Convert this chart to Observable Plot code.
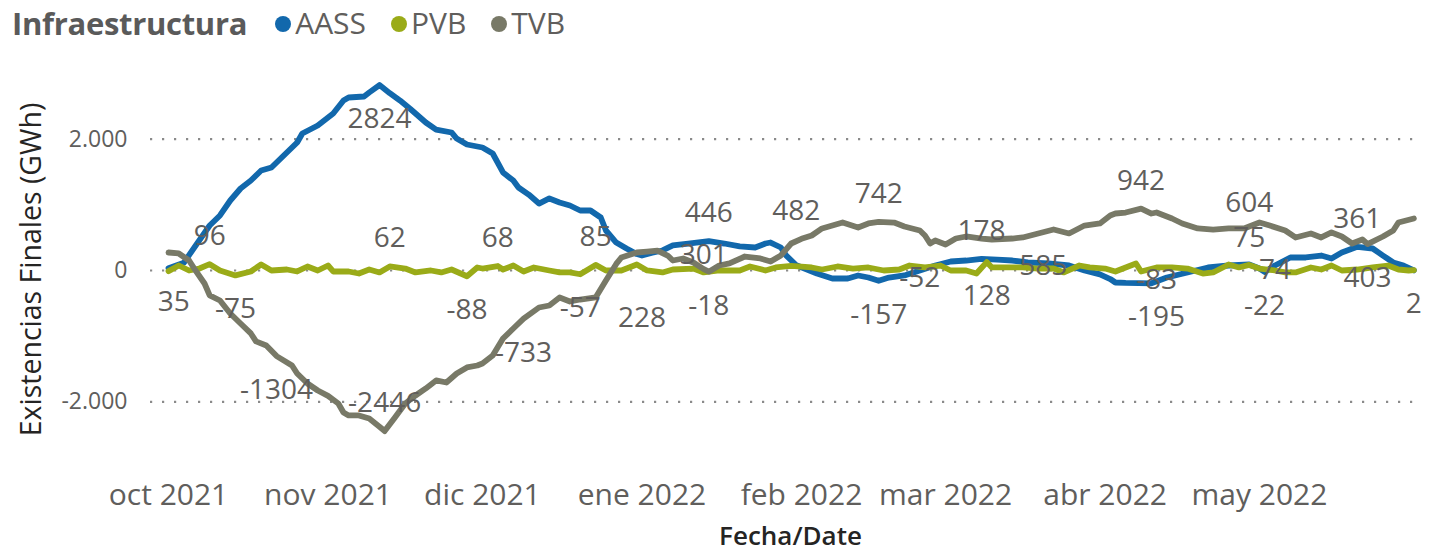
<!DOCTYPE html>
<html>
<head>
<meta charset="utf-8">
<script src="https://cdn.jsdelivr.net/npm/d3@7"></script>
<script src="https://cdn.jsdelivr.net/npm/@observablehq/plot@0.6"></script>
<style>
  html, body { margin: 0; padding: 0; background: #fff; }
  body { width: 1446px; height: 552px; overflow: hidden; font-family: "Open Sans", sans-serif; }
  #header { position: relative; height: 48px; display: flex; align-items: center; padding-left: 12px; padding-bottom: 2px; box-sizing: border-box; white-space: nowrap; }
  #title { font-weight: 700; font-size: 31px; color: #5a5a5a; line-height: 40px; margin-right: 28px; letter-spacing: -0.3px; }
  .item { display: inline-flex; align-items: center; font-size: 30px; color: #605e5c; line-height: 40px; margin-right: 25px; }
  .dot { width: 16px; height: 16px; border-radius: 50%; display: inline-block; margin-right: 4px; position: relative; top: 1px; }
</style>
</head>
<body>
<div id="header"></div>
<div id="chart"></div>
<script>
// ---- data ----
const seriesNames = ["AASS", "PVB", "TVB"];
const seriesColors = ["#1268ac", "#9aab18", "#787967"];

const monthTicks = ["2021-10-01","2021-11-01","2021-12-01","2022-01-01","2022-02-01","2022-03-01","2022-04-01","2022-05-01"];
const monthLabels = ["oct 2021","nov 2021","dic 2021","ene 2022","feb 2022","mar 2022","abr 2022","may 2022"];
const yTicks = [-2000, 0, 2000];
const yTitle = "Existencias Finales (GWh)";
const xTitle = "Fecha/Date";

const aass = [
["2021-10-01",35],["2021-10-04",120],["2021-10-06",350],["2021-10-09",685],["2021-10-11",838],["2021-10-13",1066],
["2021-10-15",1249],["2021-10-17",1370],["2021-10-19",1523],["2021-10-21",1569],["2021-10-24",1797],["2021-10-26",1950],
["2021-10-27",2087],["2021-10-30",2208],["2021-11-02",2391],["2021-11-04",2589],["2021-11-05",2635],["2021-11-08",2650],
["2021-11-09",2711],["2021-11-11",2824],["2021-11-13",2700],["2021-11-15",2589],["2021-11-17",2460],["2021-11-18",2391],
["2021-11-20",2254],["2021-11-22",2147],["2021-11-25",2102],["2021-11-26",2010],["2021-11-28",1919],["2021-12-01",1873],
["2021-12-03",1782],["2021-12-05",1493],["2021-12-07",1370],["2021-12-08",1264],["2021-12-10",1157],["2021-12-12",1020],
["2021-12-14",1097],["2021-12-16",1036],["2021-12-18",990],["2021-12-20",914],["2021-12-22",914],["2021-12-24",807],
["2021-12-25",609],["2021-12-27",426],["2021-12-29",335],["2021-12-31",250],["2022-01-01",228],["2022-01-03",270],
["2022-01-05",305],["2022-01-07",381],["2022-01-10",411],["2022-01-14",446],["2022-01-17",411],["2022-01-20",366],
["2022-01-23",350],["2022-01-25",411],["2022-01-26",426],["2022-01-28",350],["2022-01-29",230],["2022-01-31",80],
["2022-02-04",-46],["2022-02-07",-122],["2022-02-10",-122],["2022-02-12",-76],["2022-02-14",-107],["2022-02-16",-157],
["2022-02-18",-107],["2022-02-21",-76],["2022-02-24",0],["2022-02-27",76],["2022-03-02",137],["2022-03-05",152],
["2022-03-08",178],["2022-03-11",167],["2022-03-14",152],["2022-03-17",122],["2022-03-21",107],["2022-03-25",76],
["2022-03-28",0],["2022-03-31",-60],["2022-04-02",-130],["2022-04-03",-183],["2022-04-05",-190],["2022-04-10",-195],
["2022-04-13",-107],["2022-04-17",-30],["2022-04-21",46],["2022-04-25",76],["2022-04-29",91],["2022-05-01",30],
["2022-05-02",-22],["2022-05-04",76],["2022-05-07",198],["2022-05-10",198],["2022-05-13",228],["2022-05-15",183],
["2022-05-17",274],["2022-05-20",361],["2022-05-23",335],["2022-05-25",228],["2022-05-27",122],["2022-05-29",76],
["2022-05-31",2]
];

const pvb = [
["2021-10-01",-10],["2021-10-03",76],["2021-10-05",0],["2021-10-07",30],["2021-10-09",96],["2021-10-11",0],
["2021-10-14",-75],["2021-10-17",-15],["2021-10-19",91],["2021-10-21",0],["2021-10-24",15],["2021-10-26",-15],
["2021-10-28",61],["2021-10-30",0],["2021-11-01",76],["2021-11-02",-15],["2021-11-05",-15],["2021-11-07",-46],
["2021-11-09",15],["2021-11-11",-30],["2021-11-13",62],["2021-11-16",30],["2021-11-18",-30],["2021-11-21",0],
["2021-11-23",-30],["2021-11-25",15],["2021-11-28",-88],["2021-11-30",46],["2021-12-01",30],["2021-12-04",68],
["2021-12-05",15],["2021-12-07",76],["2021-12-09",-15],["2021-12-11",46],["2021-12-14",0],["2021-12-16",-30],
["2021-12-18",-30],["2021-12-20",-57],["2021-12-23",85],["2021-12-25",0],["2021-12-28",0],["2021-12-31",91],
["2022-01-02",0],["2022-01-05",-30],["2022-01-07",15],["2022-01-11",30],["2022-01-13",-30],["2022-01-16",0],
["2022-01-20",0],["2022-01-22",61],["2022-01-25",0],["2022-01-27",46],["2022-01-30",70],["2022-02-03",46],
["2022-02-05",15],["2022-02-08",61],["2022-02-11",30],["2022-02-14",46],["2022-02-17",0],["2022-02-20",15],
["2022-02-22",76],["2022-02-25",46],["2022-02-28",76],["2022-03-02",0],["2022-03-05",0],["2022-03-07",-46],
["2022-03-09",128],["2022-03-10",46],["2022-03-14",46],["2022-03-16",46],["2022-03-19",30],["2022-03-22",30],
["2022-03-24",-30],["2022-03-27",76],["2022-03-29",46],["2022-04-01",30],["2022-04-03",-15],["2022-04-07",107],
["2022-04-08",-15],["2022-04-11",46],["2022-04-14",46],["2022-04-17",30],["2022-04-20",-46],["2022-04-22",-30],
["2022-04-25",91],["2022-04-27",46],["2022-04-29",85],["2022-05-01",30],["2022-05-04",0],["2022-05-06",-30],
["2022-05-08",-30],["2022-05-11",46],["2022-05-13",15],["2022-05-15",76],["2022-05-17",0],["2022-05-20",15],
["2022-05-23",46],["2022-05-26",76],["2022-05-28",15],["2022-05-30",0],["2022-05-31",5]
];

const tvb = [
["2021-10-01",274],["2021-10-03",259],["2021-10-05",152],["2021-10-06",30],["2021-10-08",-198],["2021-10-09",-380],
["2021-10-11",-457],["2021-10-13",-655],["2021-10-15",-807],["2021-10-17",-959],["2021-10-18",-1080],["2021-10-20",-1142],
["2021-10-22",-1304],["2021-10-25",-1447],["2021-10-26",-1569],["2021-10-28",-1721],["2021-10-30",-1828],["2021-11-01",-1910],
["2021-11-03",-2026],["2021-11-04",-2163],["2021-11-05",-2208],["2021-11-07",-2208],["2021-11-09",-2254],["2021-11-11",-2380],
["2021-11-12",-2446],["2021-11-14",-2239],["2021-11-16",-2026],["2021-11-18",-1904],["2021-11-20",-1797],["2021-11-22",-1675],
["2021-11-24",-1706],["2021-11-26",-1569],["2021-11-28",-1477],["2021-11-30",-1447],["2021-12-01",-1416],["2021-12-03",-1295],
["2021-12-05",-1036],["2021-12-07",-883],["2021-12-09",-733],["2021-12-12",-564],["2021-12-14",-533],["2021-12-16",-411],
["2021-12-18",-472],["2021-12-20",-442],["2021-12-23",-411],["2021-12-25",-152],["2021-12-27",100],["2021-12-28",198],
["2021-12-31",274],["2022-01-02",289],["2022-01-04",301],["2022-01-06",228],["2022-01-07",152],["2022-01-09",183],
["2022-01-11",122],["2022-01-13",20],["2022-01-14",-18],["2022-01-16",76],["2022-01-18",107],["2022-01-21",213],
["2022-01-24",183],["2022-01-26",137],["2022-01-28",230],["2022-01-30",411],["2022-02-01",482],["2022-02-03",533],
["2022-02-05",640],["2022-02-07",685],["2022-02-09",731],["2022-02-12",655],["2022-02-14",716],["2022-02-16",742],
["2022-02-19",730],["2022-02-21",670],["2022-02-24",609],["2022-02-25",533],["2022-02-26",411],["2022-02-27",457],
["2022-03-01",396],["2022-03-03",487],["2022-03-05",518],["2022-03-08",487],["2022-03-10",472],["2022-03-14",487],
["2022-03-16",503],["2022-03-19",564],["2022-03-22",624],["2022-03-25",564],["2022-03-28",685],["2022-03-31",716],
["2022-04-02",838],["2022-04-03",868],["2022-04-05",883],["2022-04-08",942],["2022-04-10",868],["2022-04-11",883],
["2022-04-14",792],["2022-04-16",716],["2022-04-19",640],["2022-04-22",624],["2022-04-25",640],["2022-04-28",640],
["2022-05-01",731],["2022-05-03",685],["2022-05-06",609],["2022-05-08",503],["2022-05-11",564],["2022-05-13",503],
["2022-05-15",579],["2022-05-17",518],["2022-05-19",411],["2022-05-21",472],["2022-05-22",403],["2022-05-25",518],
["2022-05-27",609],["2022-05-28",731],["2022-05-31",792]
];

// data labels as shown in the picture: [date, value]
const labelsAbove = [["2021-10-09",96],["2021-11-12",-2446],["2021-11-13",62],["2021-12-04",68],["2021-12-23",85],
  ["2022-01-14",446],["2022-01-31",482],["2022-02-16",742],["2022-03-08",178],["2022-04-08",942],["2022-04-29",604],
  ["2022-04-29",75],["2022-05-20",361]];
const labelsBelow = [["2021-10-02",35],["2021-10-14",-75],["2021-10-22",-1304],["2021-11-11",2824],["2021-11-28",-88],
  ["2021-12-09",-733],["2021-12-20",-57],["2022-01-14",-18],["2022-02-16",-157],["2022-03-09",128],["2022-03-20",585],
  ["2022-04-11",-195],["2022-05-02",-22],["2022-05-22",403],["2022-05-31",2]];
const labelsCenter = [["2022-01-13",301],["2022-02-24",-52],["2022-04-11",-83],["2022-05-04",74]];
const labelsFar = [["2022-01-01",228]];

// ---- build ----
const rows = [];
[aass, pvb, tvb].forEach((arr, i) => arr.forEach(([d, v]) => rows.push({series: seriesNames[i], date: new Date(d + "T00:00:00Z"), value: v})));
const toLab = arr => arr.map(([d, v]) => ({date: new Date(d + "T00:00:00Z"), value: v, text: String(v)}));

const header = document.getElementById("header");
header.innerHTML = `<span id="title">Infraestructura</span>` + seriesNames.map((n, i) =>
  `<span class="item"><span class="dot" style="background:${seriesColors[i]}"></span>${n}</span>`).join("");

const fmt = d3.formatLocale({decimal: ",", thousands: ".", grouping: [3], currency: ["", "€"], minus: "-"}).format(",");
const tickLabel = new Map(monthTicks.map((m, i) => [+new Date(m + "T00:00:00Z"), monthLabels[i]]));
const labelColor = "#605e5c";
const titleColor = "#252423";
const labelSize = 28;

const chart = Plot.plot({
  width: 1446,
  height: 504,
  marginLeft: 150,
  marginRight: 26,
  marginTop: 10,
  marginBottom: 84,
  style: {fontFamily: "Open Sans, sans-serif", background: "#fff", overflow: "visible"},
  x: {type: "utc", domain: [new Date("2021-09-27T12:00:00Z"), new Date("2022-06-01T07:00:00Z")]},
  y: {domain: [-3016, 3229]},
  color: {domain: seriesNames, range: seriesColors},
  marks: [
    Plot.gridY(yTicks, {stroke: "#8a8a8a", strokeOpacity: 1, strokeWidth: 2.2, strokeDasharray: "2.2,9.8"}),
    Plot.axisY(yTicks, {tickSize: 0, tickPadding: 23, tickFormat: fmt, fontSize: 23, color: labelColor, label: null}),
    Plot.axisX(monthTicks.map(m => new Date(m + "T00:00:00Z")), {tickSize: 0, tickPadding: 15,
      tickFormat: d => tickLabel.get(+d), fontSize: 30, color: labelColor, label: null}),
    Plot.text([yTitle], {frameAnchor: "left", textAnchor: "middle", rotate: -90, dx: -119, dy: 6, fontSize: 28.5, fill: titleColor}),
    Plot.text([xTitle], {frameAnchor: "bottom", dx: 5, dy: 76, fontSize: 26, fontWeight: 600, fill: titleColor}),
    Plot.line(rows, {x: "date", y: "value", z: "series", stroke: "series", strokeWidth: 5.8,
      strokeLinejoin: "round", strokeLinecap: "round"}),
    Plot.text(toLab(labelsAbove), {x: "date", y: "value", text: "text", dy: -28, fill: labelColor, fontSize: labelSize}),
    Plot.text(toLab(labelsBelow), {x: "date", y: "value", text: "text", dy: 34, fill: labelColor, fontSize: labelSize}),
    Plot.text(toLab(labelsCenter), {x: "date", y: "value", text: "text", dy: 4, fill: labelColor, fontSize: labelSize}),
    Plot.text(toLab(labelsFar), {x: "date", y: "value", text: "text", dy: 63, fill: labelColor, fontSize: labelSize})
  ]
});
document.getElementById("chart").appendChild(chart);
</script>
</body>
</html>
